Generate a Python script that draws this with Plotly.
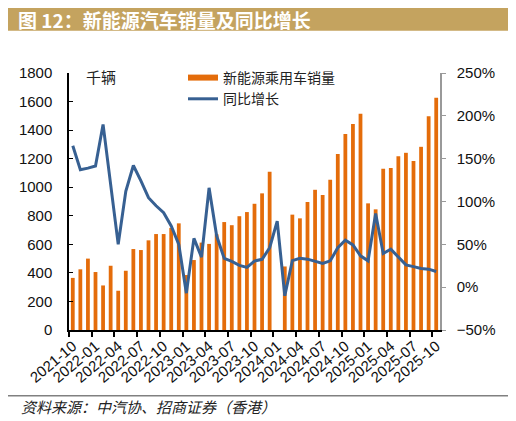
import plotly.graph_objects as go

months = [
    "2021-10", "2021-11", "2021-12",
    "2022-01", "2022-02", "2022-03", "2022-04", "2022-05", "2022-06",
    "2022-07", "2022-08", "2022-09", "2022-10", "2022-11", "2022-12",
    "2023-01", "2023-02", "2023-03", "2023-04", "2023-05", "2023-06",
    "2023-07", "2023-08", "2023-09", "2023-10", "2023-11", "2023-12",
    "2024-01", "2024-02", "2024-03", "2024-04", "2024-05", "2024-06",
    "2024-07", "2024-08", "2024-09", "2024-10", "2024-11", "2024-12",
    "2025-01", "2025-02", "2025-03", "2025-04", "2025-05", "2025-06",
    "2025-07", "2025-08", "2025-09", "2025-10",
]

# 新能源乘用车销量 (千辆); 2024-01 has no bar in the source chart
sales = [
    365, 425, 500,
    406, 312, 450, 275, 415, 567,
    560, 628, 672, 672, 715, 747,
    385, 490, 612, 603, 670, 756,
    734, 797, 826, 884, 957, 1109,
    None, 445, 808, 782, 897, 982,
    946, 1053, 1233, 1372, 1443, 1515,
    887, 845, 1130, 1134, 1217, 1241,
    1183, 1283, 1497, 1626,
]

# 同比增长 (%)
yoy = [
    165, 137, 139,
    141.5, 190, 120, 50, 112, 142,
    124, 104.5, 95, 87, 71.5, 50,
    -7, 57, 35, 116, 60, 33.5,
    30, 25.5, 23, 30.5, 32.5, 46,
    77, -10, 31, 33.8, 32.7, 30,
    27.6, 30.7, 46, 54.8, 49.4, 36.6,
    30.7, 86, 39.3, 44.3, 35.4, 26,
    24, 21.8, 21, 18.3,
]

ORANGE = "#E46C0A"
BLUE = "#376092"
CJK = "Noto Sans CJK SC"
LATIN = "Liberation Sans, Arial"

# page has an 8px body margin, so the figure is drawn 8px smaller
OFF = 8
W, H = 516, 421
L, R, T, B = 69, 440, 73, 330   # plot area in window pixels


def px(x):
    return (x - L) / (R - L)


def py(y):
    return (B - y) / (B - T)


idx = list(range(len(months)))

fig = go.Figure()

# legend entry for the bars (wide flat swatch like the original)
fig.add_trace(go.Scatter(
    x=[None], y=[None],
    mode="lines",
    name="新能源乘用车销量",
    line=dict(color=ORANGE, width=6),
))

fig.add_trace(go.Bar(
    x=idx,
    y=sales,
    width=0.5,
    marker=dict(color=ORANGE, line=dict(width=0)),
    name="新能源乘用车销量",
    showlegend=False,
))

fig.add_trace(go.Scatter(
    x=idx,
    y=yoy,
    mode="lines",
    name="同比增长",
    line=dict(color=BLUE, width=3),
    yaxis="y2",
))

fig.update_layout(
    width=W - OFF,
    height=H - OFF,
    margin=dict(l=L - OFF, r=W - R, t=T - OFF, b=H - B, pad=0, autoexpand=False),
    paper_bgcolor="white",
    plot_bgcolor="white",
    font=dict(family=LATIN, size=15, color="#111111"),
    showlegend=True,
    legend=dict(
        x=px(183), y=py(62),
        xanchor="left", yanchor="top",
        bgcolor="rgba(0,0,0,0)",
        font=dict(family=CJK, size=14, color="#222222"),
        tracegroupgap=0,
    ),
    xaxis=dict(
        range=[-0.5, len(months) - 0.5],
        tickmode="array",
        tickvals=idx[::3],
        ticktext=months[::3],
        tickangle=-40,
        ticks="",
        showline=True,
        linecolor="black",
        linewidth=1.5,
        showgrid=False,
        zeroline=False,
        automargin=False,
        tickfont=dict(family=LATIN, size=15, color="#111111"),
        minor=dict(ticks="outside", tick0=-0.5, dtick=3, ticklen=5,
                   tickwidth=1.5, tickcolor="black", showgrid=False),
    ),
    yaxis=dict(
        range=[0, 1800],
        tick0=0,
        dtick=200,
        ticks="inside",
        ticklen=4,
        tickcolor="black",
        showline=True,
        linecolor="black",
        linewidth=1.5,
        showgrid=False,
        zeroline=False,
        automargin=False,
        ticklabelstandoff=12,
        tickfont=dict(family=LATIN, size=15, color="#111111"),
    ),
    yaxis2=dict(
        overlaying="y",
        side="right",
        range=[-50, 250],
        tick0=0,
        dtick=50,
        ticksuffix="%",
        ticks="outside",
        ticklen=4,
        tickcolor="#999999",
        showline=True,
        linecolor="#999999",
        linewidth=1.5,
        showgrid=False,
        zeroline=False,
        automargin=False,
        ticklabelstandoff=8,
        tickfont=dict(family=LATIN, size=15, color="#111111"),
    ),
)

# title band
fig.add_shape(type="rect", xref="paper", yref="paper",
              x0=px(8), x1=px(511), y0=py(30.7), y1=py(8),
              fillcolor="#C4A35F", line=dict(width=0), layer="below")
fig.add_annotation(xref="paper", yref="paper", x=px(17), y=py(19.5),
                   xanchor="left", yanchor="middle", showarrow=False,
                   borderpad=0,
                   text="图 12：新能源汽车销量及同比增长",
                   font=dict(family=CJK, size=19, color="white", weight="bold"))

# unit label
fig.add_annotation(xref="paper", yref="paper", x=px(84), y=py(77),
                   xanchor="left", yanchor="middle", showarrow=False,
                   text="千辆",
                   font=dict(family=CJK, size=15, color="#222222"))

# source line
fig.add_shape(type="line", xref="paper", yref="paper",
              x0=px(8), x1=px(511), y0=py(395.7), y1=py(395.7),
              line=dict(color="#808080", width=1.5))
fig.add_annotation(xref="paper", yref="paper", x=px(19), y=py(406),
                   xanchor="left", yanchor="middle", showarrow=False,
                   text="资料来源：中汽协、招商证券（香港）",
                   font=dict(family=CJK, size=15, color="#222222", style="italic"))

fig.write_html("out.html")
